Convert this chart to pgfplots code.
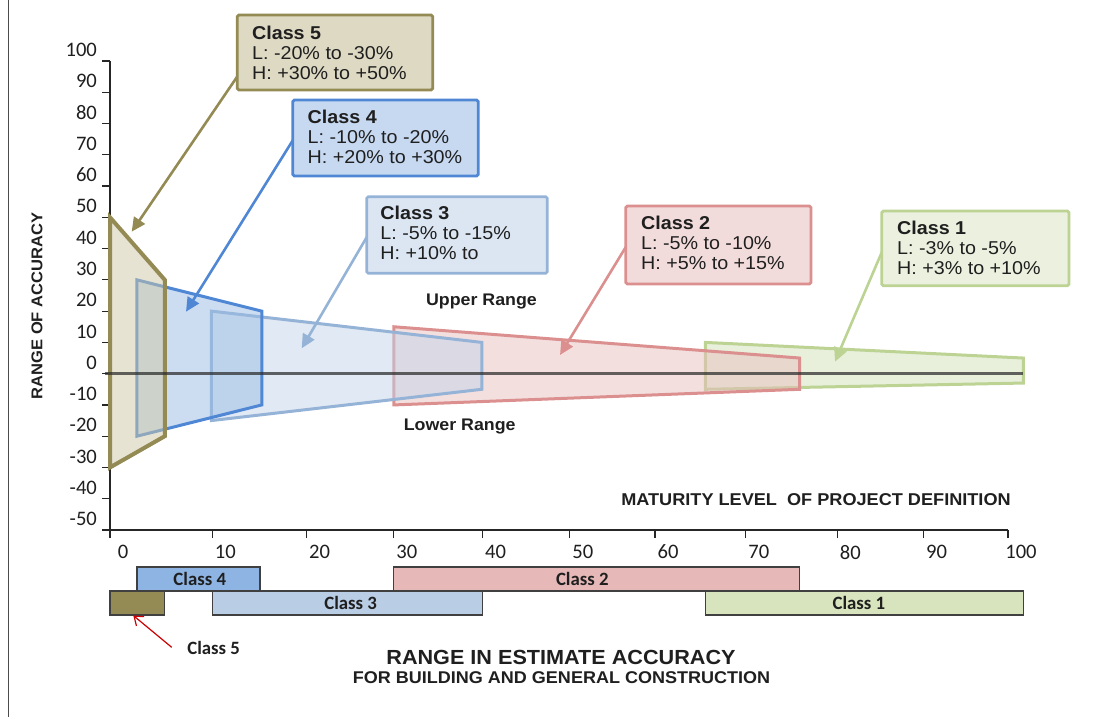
\documentclass[border=0pt]{standalone}
\usepackage{pgfplots}
\pgfplotsset{compat=1.18}
\usepackage{fontspec}
\setmainfont[FakeStretch=1.06]{Liberation Sans}
\newfontfamily\carlito{Carlito}
\usetikzlibrary{arrows.meta}
% shape colours
\definecolor{cAf}{HTML}{CEC7A6}\definecolor{cAb}{HTML}{948A54}
\definecolor{cBf}{HTML}{9BBBE4}\definecolor{cBb}{HTML}{4F87D4}
\definecolor{cCf}{HTML}{C1D3E9}\definecolor{cCb}{HTML}{95B3D7}
\definecolor{cDf}{HTML}{E9BFBF}\definecolor{cDb}{HTML}{DB8F8E}
\definecolor{cEf}{HTML}{D1E0B8}\definecolor{cEb}{HTML}{BCD394}
% box fills
\definecolor{bA}{HTML}{DDD9C3}\definecolor{bB}{HTML}{C6D9F1}
\definecolor{bC}{HTML}{DCE6F2}\definecolor{bD}{HTML}{F2DCDB}
\definecolor{bE}{HTML}{EBF1DE}
% bar fills
\definecolor{rA}{HTML}{948A54}\definecolor{rB}{HTML}{8DB4E2}
\definecolor{rC}{HTML}{B9CDE5}\definecolor{rD}{HTML}{E6B9B8}
\definecolor{rE}{HTML}{D7E4BD}
\definecolor{zeroline}{HTML}{2A2A2A}
\definecolor{txt}{HTML}{1F1F1F}
\begin{document}
\begin{tikzpicture}
\path[use as bounding box] (0,0) rectangle (551pt,-358.5pt);
\begin{axis}[
  at={(55pt,-265pt)}, anchor=south west,
  scale only axis, width=449pt, height=234.5pt,
  xmin=0, xmax=100, ymin=-50, ymax=100,
  axis lines*=left, clip=false,
  axis line style={black!85, line width=0.6pt},
  tick align=outside, major tick length=4pt,
  tick style={black!85, line width=0.6pt},
  xtick={0,11.4,21.9,31.6,41.5,51.2,60.7,70.8,81.0,90.6,100},
  xticklabels={0,10,20,30,40,50,60,70,80,90,100},
  ytick={-50,-40,-30,-20,-10,0,10,20,30,40,50,60,70,80,90,100},
  yticklabels={-50,-40,-30,-20,-10,0,10,20,30,40,50,60,70,80,90,100},
  tick label style={font=\carlito\fontsize{10.3}{11}\selectfont, text=txt},
  yticklabel style={yshift=5.5pt, xshift=1pt},
  xticklabel style={xshift=6.5pt},
]
% Class 1
\addplot[draw=cEb, line width=1.5pt, fill=cEf, fill opacity=0.5, line join=miter] coordinates {(66.3,10) (101.7,5) (101.7,-3) (66.3,-5)} -- cycle;
% Class 2
\addplot[draw=cDb, line width=1.5pt, fill=cDf, fill opacity=0.5, line join=miter] coordinates {(31.6,15) (76.8,5) (76.8,-5) (31.6,-10)} -- cycle;
% Class 3
\addplot[draw=cCb, line width=1.5pt, fill=cCf, fill opacity=0.5, line join=miter] coordinates {(11.3,20) (41.4,10) (41.4,-5) (11.3,-15)} -- cycle;
% Class 4
\addplot[draw=cBb, line width=1.5pt, fill=cBf, fill opacity=0.5, line join=miter] coordinates {(3.0,30) (16.9,20) (16.9,-10) (3.0,-20)} -- cycle;
% Class 5
\addplot[draw=cAb, line width=2pt, fill=cAf, fill opacity=0.5, line join=miter] coordinates {(0,50) (6.1,30) (6.1,-20) (0,-30)} -- cycle;
% zero line
\addplot[color=zeroline, line width=1.7pt, opacity=0.72, forget plot] coordinates {(-0.6,0) (101.7,0)};
% range bars below the axis
\addplot[draw=black!75, line width=0.6pt, fill=rB] coordinates {(3.0,-61.8) (16.7,-61.8) (16.7,-69.5) (3.0,-69.5)} -- cycle;
\addplot[draw=black!75, line width=0.6pt, fill=rD] coordinates {(31.6,-61.8) (76.8,-61.8) (76.8,-69.5) (31.6,-69.5)} -- cycle;
\addplot[draw=black!75, line width=0.6pt, fill=rA] coordinates {(0,-69.5) (6.1,-69.5) (6.1,-77.2) (0,-77.2)} -- cycle;
\addplot[draw=black!75, line width=0.6pt, fill=rC] coordinates {(11.4,-69.5) (41.5,-69.5) (41.5,-77.2) (11.4,-77.2)} -- cycle;
\addplot[draw=black!75, line width=0.6pt, fill=rE] coordinates {(66.3,-69.5) (101.7,-69.5) (101.7,-77.2) (66.3,-77.2)} -- cycle;
\node[font=\carlito\bfseries\fontsize{9.4}{10}\selectfont, text=txt] at (axis cs:10.0,-65.7) {Class 4};
\node[font=\carlito\bfseries\fontsize{9.4}{10}\selectfont, text=txt] at (axis cs:52.6,-65.7) {Class 2};
\node[font=\carlito\bfseries\fontsize{9.4}{10}\selectfont, text=txt] at (axis cs:26.8,-73.3) {Class 3};
\node[font=\carlito\bfseries\fontsize{9.4}{10}\selectfont, text=txt] at (axis cs:83.4,-73.3) {Class 1};
\end{axis}
\begin{scope}[x=0.5pt, y=-0.5pt]
% frame line
\draw[black!70, line width=0.5pt] (8,0) -- (8,717);
% axis title
\node[rotate=90, font=\bfseries\fontsize{7.8}{8}\selectfont, text=txt] at (37,306) {RANGE OF ACCURACY};
\node[font=\bfseries\fontsize{8.55}{9}\selectfont, text=txt] at (816,500) {MATURITY LEVEL\ \ OF PROJECT DEFINITION};
\node[font=\bfseries\fontsize{8.4}{9}\selectfont, text=txt] at (481.5,301) {Upper Range};
\node[font=\bfseries\fontsize{8.4}{9}\selectfont, text=txt] at (459.7,426) {Lower Range};
% bottom titles
\node[font=\bfseries\fontsize{10.2}{11}\selectfont, text=txt] at (561,657) {RANGE IN ESTIMATE ACCURACY};
\node[font=\bfseries\fontsize{8.5}{9}\selectfont, text=txt] at (561.5,678) {FOR BUILDING AND GENERAL CONSTRUCTION};
% class 5 pointer below
\node[font=\carlito\bfseries\fontsize{9.4}{10}\selectfont, text=txt] at (213.7,648) {Class 5};
\draw[red!80!black, line width=0.6pt, -{Straight Barb[length=4pt,width=6pt]}] (171.7,647.3) -- (133.3,615.5);
% arrows from boxes
\draw[cAb, line width=1.3pt, -{Triangle[length=7pt,width=6.5pt]}] (239,74) -- (131.7,231.7);
\draw[cBb, line width=1.3pt, -{Triangle[length=7pt,width=6.5pt]}] (293,140) -- (186,311.7);
\draw[cCb, line width=1.3pt, -{Triangle[length=7pt,width=6.5pt]}] (367,236.7) -- (301.7,348.3);
\draw[cDb, line width=1.3pt, -{Triangle[length=7pt,width=6.5pt]}] (626,246.7) -- (560,355);
\draw[cEb, line width=1.3pt, -{Triangle[length=7pt,width=6.5pt]}] (882,251.7) -- (835,361.7);
% boxes
\draw[cAb, fill=bA, line width=1.4pt, rounded corners=0.8pt] (237.3,15) rectangle (432.7,90);
\draw[cBb, fill=bB, line width=1.4pt, rounded corners=0.8pt] (292.7,100) rectangle (478.3,176);
\draw[cCb, fill=bC, line width=1.4pt, rounded corners=0.8pt] (366.7,196.7) rectangle (547.3,273.3);
\draw[cDb, fill=bD, line width=1.4pt, rounded corners=0.8pt] (625.7,206) rectangle (811,284);
\draw[cEb, fill=bE, line width=1.4pt, rounded corners=0.8pt] (881.7,211) rectangle (1069,285.7);
\tikzset{bt/.style={anchor=base west, inner sep=0pt, text=txt, font=\fontsize{9.3}{10}\selectfont}}
% box texts
\node[bt] at (251.7,39.3) {\bfseries Class 5};
\node[bt] at (251.7,59.3) {L: -20\% to -30\%};
\node[bt] at (251.7,79.3) {H: +30\% to +50\%};
\node[bt] at (307.3,123.5) {\bfseries Class 4};
\node[bt] at (307.3,143.5) {L: -10\% to -20\%};
\node[bt] at (307.3,163.5) {H: +20\% to +30\%};
\node[bt] at (380,219.5) {\bfseries Class 3};
\node[bt] at (380,239.5) {L: -5\% to -15\%};
\node[bt] at (380,259.5) {H: +10\% to};
\node[bt] at (640.7,229.2) {\bfseries Class 2};
\node[bt] at (640.7,249.2) {L: -5\% to -10\%};
\node[bt] at (640.7,269.2) {H: +5\% to +15\%};
\node[bt] at (896.7,234.4) {\bfseries Class 1};
\node[bt] at (896.7,254.4) {L: -3\% to -5\%};
\node[bt] at (896.7,274.4) {H: +3\% to +10\%};
\end{scope}
\end{tikzpicture}
\end{document}
